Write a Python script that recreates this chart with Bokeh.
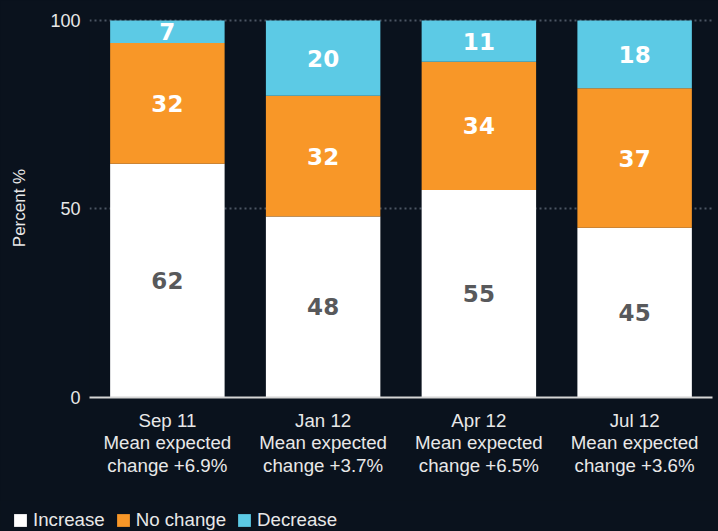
from bokeh.plotting import figure
from bokeh.models import FactorRange, Legend, LegendItem, FixedTicker
from bokeh.layouts import column, row
from bokeh.embed import file_html
from bokeh.resources import INLINE
from bokeh.core.properties import value

# ---- data ----
months = ["Sep 11", "Jan 12", "Apr 12", "Jul 12"]
mean_change = ["+6.9%", "+3.7%", "+6.5%", "+3.6%"]
increase = [62, 48, 55, 45]
no_change = [32, 32, 34, 37]
decrease = [7, 20, 11, 18]
series_names = ["Increase", "No change", "Decrease"]
y_ticks = [0, 50, 100]

BG = "#0a121d"
COLORS = ["#ffffff", "#f89728", "#5ccae5"]
TEXT_COLORS = ["#58595b", "#ffffff", "#ffffff"]
TICK_COLOR = "#e8e8e8"
FONT = "Liberation Sans"

cats = [f"{m}\nMean expected\nchange {c}" for m, c in zip(months, mean_change)]

p = figure(
    x_range=FactorRange(factors=cats),
    y_range=(0, 100.5),
    width=718, height=500,
    output_backend="svg", toolbar_location=None,
    background_fill_color=BG, border_fill_color=BG,
    min_border_left=89, min_border_right=6, min_border_top=18, min_border_bottom=103,
    outline_line_color=None,
)

# legend strip (its own small figure below the chart)
lg = figure(width=718, height=31, output_backend="svg", toolbar_location=None,
            x_range=FactorRange(factors=cats), y_range=(-2, -1),
            x_axis_type=None, y_axis_type=None,
            background_fill_color=BG, border_fill_color=BG, outline_line_color=None,
            min_border_left=0, min_border_right=0, min_border_top=0, min_border_bottom=0)
lg.xgrid.visible = False
lg.ygrid.visible = False

# stacked segments (capped at 100 so the stack never exceeds the total)
lx, ly, lt, lc = [], [], [], []
legend_renderers = []
bottoms = [0] * len(cats)
for j, vals in enumerate([increase, no_change, decrease]):
    tops = [min(b + v, 100) for b, v in zip(bottoms, vals)]
    p.vbar(x=cats, bottom=bottoms, top=tops, width=0.735, color=COLORS[j], line_color=None)
    # same series in the legend strip (zero width, out of view; only the swatch shows)
    legend_renderers.append(lg.vbar(x=cats, bottom=bottoms, top=tops, width=0,
                                    color=COLORS[j], line_color=None))
    for i, c in enumerate(cats):
        lx.append(c)
        ly.append((bottoms[i] + tops[i]) / 2)
        lt.append(str(vals[i]))
        lc.append(TEXT_COLORS[j])
    bottoms = tops

p.text(x=lx, y=ly, text=lt, text_color=lc, text_align="center", text_baseline="middle",
       text_font=value("DejaVu Sans"), text_font_style="bold", text_font_size="23px")

# axes
p.xaxis.axis_line_color = "#d6d6d6"
p.xaxis.axis_line_width = 2
p.xaxis.major_tick_line_color = None
p.xaxis.major_tick_out = 0
p.xaxis.major_tick_in = 0
p.xaxis.minor_tick_line_color = None
p.xaxis.major_label_text_font = FONT
p.xaxis.major_label_text_font_size = "18.7px"
p.xaxis.major_label_text_line_height = 1.08
p.xaxis.major_label_text_color = TICK_COLOR
p.xaxis.major_label_standoff = 12

p.yaxis.ticker = FixedTicker(ticks=y_ticks)
p.yaxis.axis_line_color = None
p.yaxis.major_tick_line_color = None
p.yaxis.major_tick_out = 0
p.yaxis.major_tick_in = 0
p.yaxis.minor_tick_line_color = None
p.yaxis.major_label_text_font = FONT
p.yaxis.major_label_text_font_size = "18px"
p.yaxis.major_label_text_color = TICK_COLOR
p.yaxis.major_label_standoff = 9
p.yaxis.axis_label = "Percent %"
p.yaxis.axis_label_text_font = FONT
p.yaxis.axis_label_text_font_size = "17px"
p.yaxis.axis_label_text_font_style = "normal"
p.yaxis.axis_label_text_color = TICK_COLOR
p.yaxis.axis_label_standoff = 18

p.xgrid.grid_line_color = None
p.ygrid.grid_line_color = "#4b5563"
p.ygrid.grid_line_width = 2
p.ygrid.grid_line_dash = "2 3"

legend = Legend(
    items=[LegendItem(label=n, renderers=[r]) for n, r in zip(series_names, legend_renderers)],
    orientation="horizontal", location=(12, 0),
    glyph_width=16, glyph_height=16, label_standoff=5, spacing=10,
    padding=0, margin=0, border_line_color=None, background_fill_alpha=0,
    label_text_font=FONT, label_text_font_size="18.7px",
    label_text_color=TICK_COLOR, label_height=16,
)
lg.add_layout(legend, "center")

layout = column(p, row(lg), spacing=0)

html = file_html(layout, INLINE)
html = html.replace("</head>", "<style>html,body{margin:0;padding:0;background:#0a121d;overflow:hidden}</style></head>", 1)
open("out.html", "w").write(html)
